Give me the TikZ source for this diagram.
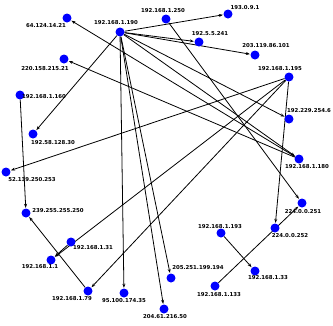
\documentclass[tikz,border=0pt]{standalone}
\usepackage{fontspec}
\setsansfont{DejaVu Sans}
\usetikzlibrary{arrows.meta,backgrounds}

\begin{document}
\begin{tikzpicture}[x=1pt,y=-1pt,
    host/.style={circle,fill=blue,inner sep=0pt,minimum size=9pt},
    ip/.style={inner sep=0pt,font=\sffamily\bfseries\fontsize{5.4}{6}\selectfont},
    link/.style={-{Stealth[length=4pt,width=3pt]},line width=0.8pt,shorten >=0.5pt}]
    \useasboundingbox (0,0) rectangle (333,325);
    % hosts
    \foreach \n/\x/\y in {a190/120/32, a64/67/18, a220/64/59, a160/20/95,
            a250/166/19, a193x/228/14, a192x/199/42, a203/255/55,
            a195/289/77, a229/289/119, a180/299/159, a251/302/203,
            a252/275/228, a193/221/233, a33/255/271, a133/215/286,
            a205/171/278, a204/164/309, a95/124/293, a79/88/291,
            a1/51/260, a31/71/242, a239/26/213, a52/6/172, a58/33/134}
        \node[host] (\n) at (\x,\y) {};
    % addresses
    \node[ip] (l190) at (116,23) {192.168.1.190};
    \node[ip] (l64) at (46,26) {64.124.14.21};
    \node[ip] (l220) at (45,69) {220.158.215.21};
    \node[ip] (l160) at (44,97) {192.168.1.160};
    \node[ip] (l250) at (163,11) {192.168.1.250};
    \node[ip] (l193x) at (245,8) {193.0.9.1};
    \node[ip] (l192x) at (210,34) {192.5.5.241};
    \node[ip] (l203) at (266,46) {203.119.86.101};
    \node[ip] (l195) at (280,69) {192.168.1.195};
    \node[ip] (l229) at (309,111) {192.229.254.6};
    \node[ip] (l180) at (307,167) {192.168.1.180};
    \node[ip] (l251) at (303,212) {224.0.0.251};
    \node[ip] (l252) at (290,236) {224.0.0.252};
    \node[ip] (l193) at (220,227) {192.168.1.193};
    \node[ip] (l33) at (268,278) {192.168.1.33};
    \node[ip] (l133) at (219,295) {192.168.1.133};
    \node[ip] (l205) at (198,268) {205.251.199.194};
    \node[ip] (l204) at (165,317) {204.61.216.50};
    \node[ip] (l95) at (124,301) {95.100.174.35};
    \node[ip] (l79) at (72,299) {192.168.1.79};
    \node[ip] (l1) at (40,267) {192.168.1.1};
    \node[ip] (l31) at (93,248) {192.168.1.31};
    \node[ip] (l239) at (58,211) {239.255.255.250};
    \node[ip] (l52) at (32,180) {52.139.250.253};
    \node[ip] (l58) at (53,143) {192.58.128.30};
    % flows
    \begin{scope}[on background layer]
        \foreach \s/\t in {a190/a193x, a190/a192x, a190/a203, a190/a229,
                a190/a180, a190/a58, a190/a95, a190/a204, a190/a205,
                a180/a64, a180/a220, a250/a251, a160/a239, a79/a239,
                a195/a52, a195/a79, a195/a1, a31/a1, a195/a252,
                a133/a251, a193/a33}
            \draw[link] (\s) -- (\t);
    \end{scope}
\end{tikzpicture}
\end{document}
